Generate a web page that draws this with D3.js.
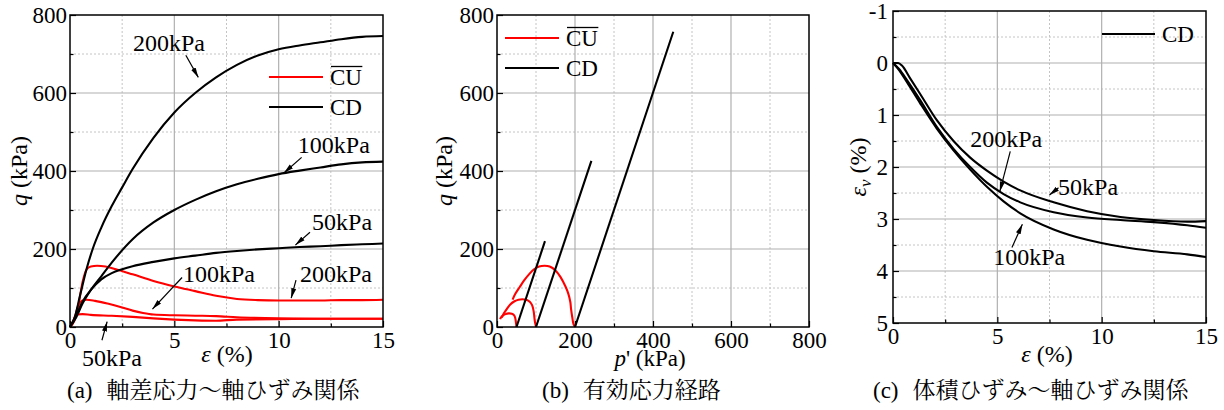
<!DOCTYPE html>
<html><head><meta charset="utf-8">
<script src="https://cdn.jsdelivr.net/npm/d3@7"></script>
<style>body{margin:0;background:#fff}svg{display:block}</style>
</head><body>
<script>
// ---------------- DATA ----------------
// Panel (a): deviator stress q (kPa) vs axial strain ε (%)
const cd200Strain = [0, 0.2, 0.5, 0.8, 1.1, 1.5, 2, 2.5, 3, 4, 5, 6, 7, 8, 9, 10, 11, 12, 13, 14, 15];
const cd200Q      = [0, 20, 85, 150, 202, 255, 310, 358, 405, 485, 550, 600, 640, 672, 696, 712, 722, 730, 738, 744, 746];
const cd100Strain = [0, 0.3, 0.6, 1, 1.5, 2, 3, 4, 5, 6, 7, 8, 9, 10, 11, 12, 13, 14, 15];
const cd100Q      = [0, 25, 60, 95, 130, 165, 225, 268, 300, 326, 348, 366, 380, 392, 401, 409, 417, 422, 424];
const cd50Strain  = [0, 0.3, 0.6, 1, 1.5, 2, 2.5, 3, 4, 5, 6, 7, 8, 9, 10, 11, 12, 13, 14, 15];
const cd50Q       = [0, 30, 65, 95, 122, 138, 148, 156, 167, 176, 183, 190, 195, 199, 202, 205, 207, 210, 212, 214];
const cu200Strain = [0, 0.2, 0.4, 0.6, 0.8, 1.0, 1.3, 1.7, 2.2, 3, 4, 5, 6, 7, 8, 9, 10, 11, 12, 13, 14, 15];
const cu200Q      = [0, 15, 55, 115, 148, 155, 157, 155, 148, 135, 118, 104, 92, 80, 72, 69, 68, 68, 68, 69, 69, 70];
const cu100Strain = [0, 0.2, 0.4, 0.6, 0.8, 1.2, 1.8, 2.5, 3, 3.5, 4, 5, 6, 7, 8, 10, 12, 15];
const cu100Q      = [0, 20, 55, 68, 70, 67, 60, 50, 42, 36, 32, 30, 29, 28, 25, 22, 21, 21];
const cu50Strain  = [0, 0.15, 0.3, 0.6, 1, 2, 3, 4, 5, 6, 7, 8, 10, 12, 15];
const cu50Q       = [0, 15, 32, 33, 31, 29, 26, 22, 19, 17, 16, 19, 20, 21, 21];

// Panel (b): effective stress paths, p' (kPa) vs q (kPa)
const pathCU200P = [200, 196, 193, 190, 188, 183, 175, 163, 150, 135, 122, 108, 95, 82, 70, 58, 47, 40];
const pathCU200Q = [0, 8, 25, 45, 64, 85, 105, 128, 145, 155, 157, 155, 148, 135, 120, 102, 85, 70];
const pathCU100P = [100, 99, 97, 94, 90, 84, 75, 65, 55, 45, 34, 25, 17, 12];
const pathCU100Q = [0, 5, 15, 40, 56, 65, 70, 71, 70, 66, 58, 46, 34, 24];
const pathCU50P  = [50, 49, 47, 44, 38, 30, 22, 15, 10, 8];
const pathCU50Q  = [0, 8, 22, 30, 34, 35, 33, 29, 24, 20];
const pathCD50P  = [50, 123];
const pathCD50Q  = [0, 220];
const pathCD100P = [100, 242];
const pathCD100Q = [0, 426];
const pathCD200P = [200, 452];
const pathCD200Q = [0, 757];

// Panel (c): volumetric strain εv (%) vs axial strain ε (%)
const vol50Strain  = [0, 0.25, 0.43, 0.8, 1.31, 2.1, 2.9, 3.7, 4.5, 5.3, 6.1, 7.7, 9.3, 10.9, 12.5, 14.1, 15];
const vol50Ev      = [0, 0.0, 0.05, 0.28, 0.6, 1.1, 1.5, 1.82, 2.07, 2.28, 2.45, 2.68, 2.85, 2.96, 3.02, 3.05, 3.04];
const vol200Strain = [0, 0.3, 0.67, 1.31, 2.1, 2.9, 3.7, 4.5, 5.3, 6.1, 7.7, 9.3, 10.9, 12.5, 14.1, 15];
const vol200Ev     = [0, 0.12, 0.33, 0.72, 1.23, 1.65, 2.0, 2.3, 2.52, 2.68, 2.87, 2.97, 3.02, 3.06, 3.12, 3.17];
const vol100Strain = [0, 0.3, 0.67, 1.31, 2.1, 2.9, 3.7, 4.5, 5.3, 6.1, 7.7, 9.3, 10.9, 12.5, 14.1, 15];
const vol100Ev     = [0, 0.14, 0.37, 0.78, 1.26, 1.68, 2.05, 2.38, 2.66, 2.89, 3.2, 3.4, 3.53, 3.62, 3.68, 3.73];

// Tick values / labels
const strainMajor = [0, 5, 10, 15];
const strainMinor = [2.5, 7.5, 12.5];
const strainLabels = ["0", "5", "10", "15"];
const qMajor = [0, 200, 400, 600, 800];
const qMinor = [100, 300, 500, 700];
const qLabels = ["0", "200", "400", "600", "800"];
const pMajor = [0, 200, 400, 600, 800];
const pMinor = [100, 300, 500, 700];
const pLabels = ["0", "200", "400", "600", "800"];
const evMajor = [-1, 0, 1, 2, 3, 4, 5];
const evMinor = [-0.5, 0.5, 1.5, 2.5, 3.5, 4.5];
const evLabels = ["-1", "0", "1", "2", "3", "4", "5"];

const legendAB = ["CU", "CD"];
const legendC = ["CD"];
const captions = ["(a)", "軸差応力～軸ひずみ関係", "(b)", "有効応力経路", "(c)", "体積ひずみ～軸ひずみ関係"];

// ---------------- DRAWING ----------------
const SERIF = '"Liberation Serif"';
const CJK = '"Noto Serif CJK JP"';
const FS = 23;
const RED = "#ff0000";

const svg = d3.select("body").append("svg").attr("width", 1224).attr("height", 410)
  .style("background", "#fff");
const defs = svg.append("defs");
defs.append("marker").attr("id", "arr").attr("viewBox", "0 0 10 6")
  .attr("refX", 10).attr("refY", 3).attr("markerWidth", 10).attr("markerHeight", 6)
  .attr("markerUnits", "userSpaceOnUse").attr("orient", "auto")
  .append("path").attr("d", "M0,0.5 L10,3 L0,5.5 Z").attr("fill", "#000");

const zip = (xs, ys) => xs.map((v, i) => [v, ys[i]]);
const serifText = (sel, size) => sel.style("font-family", SERIF).style("font-size", size + "px").attr("fill", "#000");

function panel(cfg) {
  const g = svg.append("g");
  const x = d3.scaleLinear().domain(cfg.xDomain).range([cfg.left, cfg.right]);
  const y = d3.scaleLinear().domain(cfg.yDomain).range([cfg.bottom, cfg.top]);
  const inner = (arr, dom) => arr.filter(d => d !== dom[0] && d !== dom[1]);

  // grid
  const grid = g.append("g");
  grid.selectAll(".gxm").data(cfg.xMinor).join("line")
    .attr("x1", d => x(d)).attr("x2", d => x(d)).attr("y1", cfg.top).attr("y2", cfg.bottom)
    .attr("stroke", "#c4c4c4").attr("stroke-dasharray", "2,2");
  grid.selectAll(".gym").data(cfg.yMinor).join("line")
    .attr("y1", d => y(d)).attr("y2", d => y(d)).attr("x1", cfg.left).attr("x2", cfg.right)
    .attr("stroke", "#c4c4c4").attr("stroke-dasharray", "2,2");
  grid.selectAll(".gxM").data(inner(cfg.xMajor, cfg.xDomain)).join("line")
    .attr("x1", d => x(d)).attr("x2", d => x(d)).attr("y1", cfg.top).attr("y2", cfg.bottom)
    .attr("stroke", "#b0b0b0").attr("stroke-width", 1.2);
  grid.selectAll(".gyM").data(inner(cfg.yMajor, cfg.yDomain)).join("line")
    .attr("y1", d => y(d)).attr("y2", d => y(d)).attr("x1", cfg.left).attr("x2", cfg.right)
    .attr("stroke", "#b0b0b0").attr("stroke-width", 1.2);

  // axes
  const styleAxis = a => {
    a.attr("font-family", null).attr("font-size", null);
    a.select(".domain").remove();
    a.selectAll("line").attr("stroke", "#000").attr("stroke-width", 1.2);
    serifText(a.selectAll("text"), FS);
  };
  g.append("g").attr("transform", `translate(0,${cfg.bottom})`)
    .call(d3.axisBottom(x).tickValues(cfg.xMajor).tickSize(-6).tickPadding(5)
      .tickFormat(d => cfg.xLabels[cfg.xMajor.indexOf(d)])).call(styleAxis);
  g.append("g").attr("transform", `translate(0,${cfg.bottom})`)
    .call(d3.axisBottom(x).tickValues(cfg.xMinor).tickSize(-3.5).tickFormat("")).call(styleAxis);
  g.append("g").attr("transform", `translate(${cfg.left},0)`)
    .call(d3.axisLeft(y).tickValues(cfg.yMajor).tickSize(-6).tickPadding(cfg.yPad)
      .tickFormat(d => cfg.yLabels[cfg.yMajor.indexOf(d)])).call(styleAxis);
  g.append("g").attr("transform", `translate(${cfg.left},0)`)
    .call(d3.axisLeft(y).tickValues(cfg.yMinor).tickSize(-3.5).tickFormat("")).call(styleAxis);

  // series
  cfg.series.forEach(s => {
    const line = d3.line().x(d => x(d[0])).y(d => y(d[1])).curve(s.curve || d3.curveMonotoneX);
    g.append("path").datum(s.pts).attr("d", line).attr("fill", "none")
      .attr("stroke", s.color).attr("stroke-width", 2.1).attr("stroke-linejoin", "round");
  });

  // frame
  g.append("rect").attr("x", cfg.left).attr("y", cfg.top)
    .attr("width", cfg.right - cfg.left).attr("height", cfg.bottom - cfg.top)
    .attr("fill", "none").attr("stroke", "#000").attr("stroke-width", 1.5);

  // annotations
  (cfg.ann || []).forEach(a => {
    g.append("line").attr("x1", x(a.a1[0])).attr("y1", y(a.a1[1]))
      .attr("x2", x(a.a2[0])).attr("y2", y(a.a2[1]))
      .attr("stroke", "#000").attr("stroke-width", 1.2).attr("marker-end", "url(#arr)");
    serifText(g.append("text").attr("x", x(a.t[0])).attr("y", y(a.t[1])).text(a.label), FS + 1);
  });

  // legend
  cfg.legend.forEach((l, i) => {
    const ly = cfg.legY + i * cfg.legDy;
    g.append("line").attr("x1", cfg.legX).attr("x2", cfg.legX + cfg.legLen)
      .attr("y1", ly).attr("y2", ly).attr("stroke", l.color).attr("stroke-width", 2.1);
    const t = serifText(g.append("text").attr("x", cfg.legX + cfg.legLen + 7).attr("y", ly + 8)
      .text(l.name), FS);
    if (l.over) {
      const bb = t.node().getBBox();
      g.append("line").attr("x1", bb.x + 1).attr("x2", bb.x + bb.width)
        .attr("y1", bb.y + 1.5).attr("y2", bb.y + 1.5).attr("stroke", "#000").attr("stroke-width", 1.3);
    }
  });

  // axis titles
  const xt = serifText(g.append("text").attr("x", cfg.xTitleX).attr("y", cfg.xTitleY)
    .attr("text-anchor", "middle"), cfg.xTitleFS || FS + 1);
  cfg.xTitle.forEach(p => xt.append("tspan").text(p[0]).style("font-style", p[1] ? "italic" : "normal"));
  const yt = serifText(g.append("text").attr("transform", `translate(${cfg.yTitleX},${(cfg.top + cfg.bottom) / 2}) rotate(-90)`)
    .attr("text-anchor", "middle"), FS + 1);
  cfg.yTitle.forEach(p => {
    const ts = yt.append("tspan").text(p[0]).style("font-style", p[1] ? "italic" : "normal");
    if (p[2] === "sub") ts.attr("baseline-shift", "-30%").style("font-size", (FS - 6) + "px");
  });

  // caption
  const ct = g.append("text").attr("x", cfg.capX).attr("y", 398).style("font-size", FS + "px").attr("fill", "#000");
  ct.append("tspan").text(cfg.cap[0]).style("font-family", SERIF);
  ct.append("tspan").attr("dx", 14).text(cfg.cap[1]).style("font-family", CJK);
}

panel({
  left: 70, right: 383, top: 15, bottom: 327,
  xDomain: [0, 15], yDomain: [0, 800],
  xMajor: strainMajor, xMinor: strainMinor, xLabels: strainLabels,
  yMajor: qMajor, yMinor: qMinor, yLabels: qLabels, yPad: 3,
  series: [
    { pts: zip(cu200Strain, cu200Q), color: RED },
    { pts: zip(cu100Strain, cu100Q), color: RED },
    { pts: zip(cu50Strain, cu50Q), color: RED },
    { pts: zip(cd200Strain, cd200Q), color: "#000" },
    { pts: zip(cd100Strain, cd100Q), color: "#000" },
    { pts: zip(cd50Strain, cd50Q), color: "#000" }
  ],
  ann: [
    { label: "200kPa", t: [3.02, 708], a1: [5.55, 697], a2: [6.15, 640] },
    { label: "100kPa", t: [10.92, 446], a1: [11.1, 435], a2: [10.25, 395] },
    { label: "50kPa", t: [11.6, 250], a1: [11.5, 243], a2: [10.8, 210] },
    { label: "100kPa", t: [5.41, 115], a1: [5.37, 127], a2: [3.95, 46] },
    { label: "200kPa", t: [11.02, 115], a1: [10.83, 120], a2: [10.6, 74] },
    { label: "50kPa", t: [0.57, -101], a1: [1.53, -34], a2: [1.78, 14] }
  ],
  legend: [{ name: legendAB[0], color: RED, over: true }, { name: legendAB[1], color: "#000" }],
  legX: 269, legY: 77, legDy: 30, legLen: 54,
  xTitle: [["ε", true], [" (%)", false]], xTitleX: 227, xTitleY: 362,
  yTitle: [["q", true], [" (kPa)", false]], yTitleX: 27,
  cap: [captions[0], captions[1]], capX: 67
});

panel({
  left: 497, right: 809, top: 15, bottom: 327,
  xDomain: [0, 800], yDomain: [0, 800],
  xMajor: pMajor, xMinor: pMinor, xLabels: pLabels,
  yMajor: qMajor, yMinor: qMinor, yLabels: qLabels, yPad: 3,
  series: [
    { pts: zip(pathCU200P, pathCU200Q), color: RED, curve: d3.curveCatmullRom },
    { pts: zip(pathCU100P, pathCU100Q), color: RED, curve: d3.curveCatmullRom },
    { pts: zip(pathCU50P, pathCU50Q), color: RED, curve: d3.curveCatmullRom },
    { pts: zip(pathCD50P, pathCD50Q), color: "#000", curve: d3.curveLinear },
    { pts: zip(pathCD100P, pathCD100Q), color: "#000", curve: d3.curveLinear },
    { pts: zip(pathCD200P, pathCD200Q), color: "#000", curve: d3.curveLinear }
  ],
  ann: [],
  legend: [{ name: legendAB[0], color: RED, over: true }, { name: legendAB[1], color: "#000" }],
  legX: 505, legY: 38, legDy: 30, legLen: 54,
  xTitle: [["p", true], ["' (kPa)", false]], xTitleX: 650, xTitleY: 366, xTitleFS: 23,
  yTitle: [["q", true], [" (kPa)", false]], yTitleX: 452,
  cap: [captions[2], captions[3]], capX: 542
});

panel({
  left: 893, right: 1206, top: 11, bottom: 323,
  xDomain: [0, 15], yDomain: [5, -1],
  xMajor: strainMajor, xMinor: strainMinor, xLabels: strainLabels,
  yMajor: evMajor, yMinor: evMinor, yLabels: evLabels, yPad: 5,
  series: [
    { pts: zip(vol50Strain, vol50Ev), color: "#000" },
    { pts: zip(vol200Strain, vol200Ev), color: "#000" },
    { pts: zip(vol100Strain, vol100Ev), color: "#000" }
  ],
  ann: [
    { label: "200kPa", t: [3.7, 1.62], a1: [5.62, 1.7], a2: [5.12, 2.47] },
    { label: "50kPa", t: [7.91, 2.54], a1: [7.93, 2.4], a2: [7.5, 2.54] },
    { label: "100kPa", t: [4.8, 3.89], a1: [5.7, 3.55], a2: [6.2, 3.1] }
  ],
  legend: [{ name: legendC[0], color: "#000" }],
  legX: 1102, legY: 34, legDy: 30, legLen: 53,
  xTitle: [["ε", true], [" (%)", false]], xTitleX: 1047, xTitleY: 362,
  yTitle: [["ε", true], ["v", true, "sub"], [" (%)", false]], yTitleX: 866,
  cap: [captions[4], captions[5]], capX: 873
});
</script>
</body></html>
